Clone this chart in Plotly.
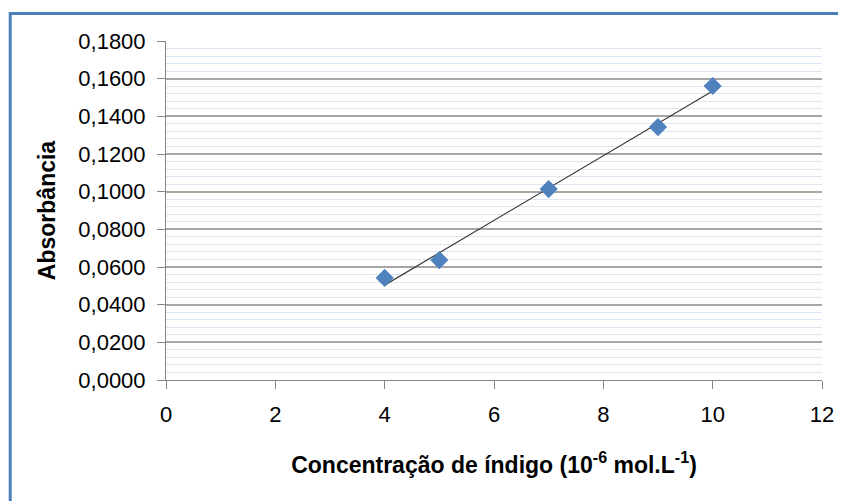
import numpy as np
import plotly.graph_objects as go

concentracao = [4, 5, 7, 9, 10]
absorbancia = [0.0542, 0.0637, 0.1014, 0.1343, 0.1561]
x_ticks = [0, 2, 4, 6, 8, 10, 12]

OFF = 8  # default page body margin
W, H = 846 - OFF, 501 - OFF
L, R, T, B = 166 - OFF, 21, 41 - OFF, 121
pw, ph = W - L - R, H - T - B

def px_to_paper_x(px):
    return (px - OFF - L) / pw

def py_to_paper_y(py):
    return (H - B - (py - OFF)) / ph

slope, intercept = np.polyfit(concentracao, absorbancia, 1)
trend_x = [min(concentracao), max(concentracao)]
trend_y = [slope * v + intercept for v in trend_x]

fig = go.Figure()
fig.add_trace(go.Scatter(x=trend_x, y=trend_y, mode="lines",
                         line=dict(color="#3a3a3a", width=1.2), hoverinfo="skip"))
fig.add_trace(go.Scatter(x=concentracao, y=absorbancia, mode="markers",
                         marker=dict(symbol="diamond", size=14, color="#4f81bd",
                                     line=dict(width=0))))

font = "Liberation Sans, Arial, sans-serif"
fig.update_layout(
    width=W, height=H,
    margin=dict(l=L, r=R, t=T, b=B),
    paper_bgcolor="white", plot_bgcolor="white",
    showlegend=False,
    separators=",.",
    font=dict(family=font, size=22, color="#000000"),
    xaxis=dict(range=[0, 12], tickvals=x_ticks, showgrid=False, zeroline=False,
               showline=True, linecolor="#868686", linewidth=1,
               ticks="outside", ticklen=8, tickcolor="#868686",
               tickfont=dict(size=22, family=font), ticklabelstandoff=7,
               title=dict(text="<b>Concentração de índigo (10<sup>-6</sup> mol.L<sup>-1</sup>)</b>",
                          font=dict(size=23, family=font), standoff=30)),
    yaxis=dict(range=[0, 0.18], dtick=0.02, tickformat=".4f",
               showgrid=True, gridcolor="#a6a6a6", gridwidth=1.5, zeroline=False,
               showline=True, linecolor="#868686", linewidth=1,
               ticks="outside", ticklen=8, tickcolor="#868686",
               tickfont=dict(size=22, family=font), ticklabelstandoff=7,
               minor=dict(dtick=0.004, showgrid=True, gridcolor="#dce6f2", gridwidth=1),
               title=dict(text="<b>Absorbância</b>", font=dict(size=23, family=font),
                          standoff=16)),
    shapes=[
        dict(type="line", xref="paper", yref="paper",
             x0=px_to_paper_x(9.5), x1=px_to_paper_x(860),
             y0=py_to_paper_y(13.5), y1=py_to_paper_y(13.5),
             line=dict(color="#4a7ebb", width=3)),
        dict(type="line", xref="paper", yref="paper",
             x0=px_to_paper_x(9.5), x1=px_to_paper_x(9.5),
             y0=py_to_paper_y(12), y1=py_to_paper_y(520),
             line=dict(color="#4a7ebb", width=3)),
    ],
)

fig.write_html("out.html")
